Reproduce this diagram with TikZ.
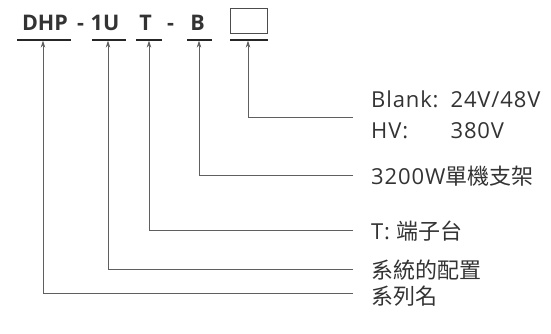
\documentclass[tikz,border=0pt]{standalone}
\usepackage{fontspec}
\setmainfont{Open Sans}
\newfontfamily\cjk{Noto Sans CJK TC}
\newfontfamily\latwide[LetterSpace=4]{Open Sans}
\usetikzlibrary{arrows.meta}
\definecolor{txt}{HTML}{333333}
\definecolor{ln}{HTML}{5F5F5F}
\tikzset{
  hdr/.style={font=\fontsize{21.5}{24}\selectfont\bfseries, text=txt, inner sep=0pt, anchor=base},
  uline/.style={draw=black!85, line width=1.2pt},
  conn/.style={draw=ln, line width=0.9pt, -{Stealth[length=7pt,width=4.5pt]}},
  lbl/.style={font=\latwide\fontsize{22}{31}\selectfont, text=txt, anchor=west, inner sep=0pt},
}
\begin{document}
\begin{tikzpicture}[x=1pt,y=1pt]
\useasboundingbox (0,0) rectangle (551,-333);
% header texts
\node[hdr] (tDHP) at (45,-30) {DHP};
\node[hdr] (tD1) at (80.5,-30) {-};
\node[hdr] (t1U) at (105,-30) {1U};
\node[hdr] (tT) at (145.5,-30) {T};
\node[hdr] (tD2) at (170.5,-30) {-};
\node[hdr] (tB) at (197.5,-30) {B};
\node[draw=black!70, line width=0.9pt, minimum width=37pt, minimum height=25pt, inner sep=0pt] (box) at (249,-20.5) {};
% underlines
\draw[uline] (17,-40) coordinate (a1) -- (71,-40) coordinate (b1);
\draw[uline] (92,-40) coordinate (a2) -- (126,-40) coordinate (b2);
\draw[uline] (136,-40) coordinate (a3) -- (162,-40) coordinate (b3);
\draw[uline] (187,-40) coordinate (a4) -- (212,-40) coordinate (b4);
\draw[uline] (230,-40) coordinate (a5) -- (268,-40) coordinate (b5);
\coordinate (u1) at (43,-40.6);
\coordinate (u2) at (108,-40.6);
\coordinate (u3) at (149,-40.6);
\coordinate (u4) at (199,-40.6);
\coordinate (u5) at (248,-40.6);
% corners
\coordinate (c1) at (43,-293);
\coordinate (c2) at (108,-269);
\coordinate (c3) at (149,-230);
\coordinate (c4) at (199,-175);
\coordinate (c5) at (248,-117);
% right ends
\coordinate (e1) at (353,-293);
\coordinate (e2) at (353,-269);
\coordinate (e3) at (353,-230);
\coordinate (e4) at (353,-175);
\coordinate (e5) at (353,-117);
\foreach \i in {1,...,5} {\draw[conn] (e\i) -- (c\i) -- (u\i);}
% labels
\node[lbl] (l5) at (371,-117) {\begin{tabular}{@{}l@{\hspace{12pt}}l@{}}Blank: & 24V/48V\\ HV: & 380V\end{tabular}};
\node[lbl] (l4) at (371,-176) {3200W{\cjk 單機支架}};
\node[lbl] (l3) at (371,-231) {T: {\cjk 端子台}};
\node[lbl] (l2) at (371,-270) {\cjk 系統的配置};
\node[lbl] (l1) at (371,-296) {\cjk 系列名};
\end{tikzpicture}
\end{document}
